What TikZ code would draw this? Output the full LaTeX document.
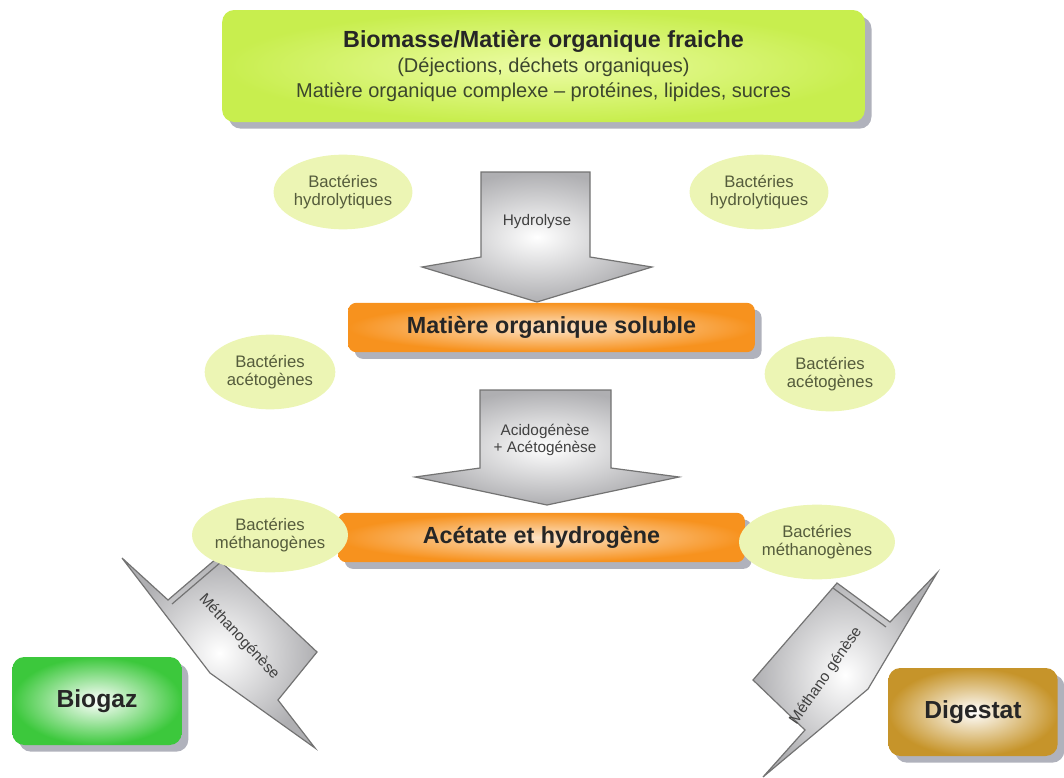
\documentclass[tikz,border=0pt]{standalone}
\usepackage{fontspec}
\setmainfont{Liberation Sans}
\usetikzlibrary{shapes.geometric,shadows}
\definecolor{limebox}{RGB}{200,238,78}
\definecolor{limeglow}{RGB}{236,252,165}
\definecolor{srctext}{RGB}{60,70,45}
\definecolor{orangebox}{RGB}{247,146,30}
\definecolor{orangeglow}{RGB}{253,228,200}
\definecolor{bacfill}{RGB}{236,245,180}
\definecolor{bactext}{RGB}{85,92,60}
\definecolor{biogreen}{RGB}{60,200,60}
\definecolor{digbrown}{RGB}{198,148,42}
\definecolor{arrowline}{RGB}{115,115,115}
\definecolor{arrowgray}{RGB}{175,175,178}
\definecolor{shadowgray}{RGB}{150,152,165}

\begin{document}
\begin{tikzpicture}[x=0.75pt,y=-0.75pt,
 boxshadow/.style={drop shadow={shadow xshift=5pt,shadow yshift=-5pt,fill=shadowgray,opacity=.75}},
 source/.style={boxshadow,rounded corners=9pt,inner color=limeglow,outer color=limebox,minimum width=482pt,minimum height=84pt,align=center,text=srctext,font=\fontsize{15}{18.5}\selectfont},
 stage/.style={boxshadow,rounded corners=6pt,inner color=orangeglow,outer color=orangebox,minimum width=305pt,minimum height=37pt,text=black!85,font=\fontsize{17.5}{20}\selectfont\bfseries},
 product/.style={boxshadow,rounded corners=9pt,inner color=white,minimum width=127pt,minimum height=66pt,text=black!85,font=\fontsize{18.5}{20}\selectfont\bfseries},
 bact/.style={ellipse,fill=bacfill,minimum width=98pt,minimum height=56pt,inner sep=0pt,align=center,text=bactext,font=\fontsize{12.5}{14}\selectfont},
 flow/.style={draw=arrowline,line width=0.9pt,inner color=white,outer color=arrowgray,line join=miter},
 flowlbl/.style={align=center,text=black!75,font=\fontsize{11.5}{12.5}\selectfont}]
\useasboundingbox (0,0) rectangle (1064,778);

\draw[flow] (481,172)--(590,172)--(590,257)--(652,267)--(537,302)--(422,267)--(481,257)--cycle;
\draw[flow] (480,390)--(611,390)--(611,468)--(679,477)--(547,505)--(415,477)--(480,468)--cycle;
\draw[flow] (122,558)--(168,600)--(217,558)--(317,652)--(278,700)--(315,748)--(210,673)--cycle;
\draw[arrowline,line width=0.9pt] (172,604)--(221,562);
\draw[flow] (937,573)--(890,622)--(837,583)--(753,680)--(805,730)--(763,777)--(868,689)--cycle;
\draw[arrowline,line width=0.9pt] (833,588)--(886,627);

\node[flowlbl] (hyd) at (537,222) {Hydrolyse};
\node[flowlbl] (acid) at (545,440) {Acidogénèse\\+ Acétogénèse};
\node[flowlbl,rotate=-47] (meth1) at (239,637) {Méthanogénèse};
\node[flowlbl,rotate=55] (meth2) at (826,676) {Méthano génèse};

\node[source] (src) at (543.5,66) {{\fontsize{17.5}{18.5}\selectfont\bfseries\color{black!85}Biomasse/Matière organique fraiche}\\(Déjections, déchets organiques)\\Matière organique complexe – protéines, lipides, sucres};
\node[stage] (sol) at (551.5,327.5) {Matière organique soluble};
\node[stage] (ace) at (541.5,537.5) {Acétate et hydrogène};
\node[product,outer color=biogreen] (gaz) at (97,701) {Biogaz};
\node[product,outer color=digbrown] (dig) at (973,712) {Digestat};

\node[bact] (hyl) at (343,192) {Bactéries\\hydrolytiques};
\node[bact] (hyr) at (759,192) {Bactéries\\hydrolytiques};
\node[bact] (acl) at (270,372) {Bactéries\\acétogènes};
\node[bact] (acr) at (830,374) {Bactéries\\acétogènes};
\node[bact] (mel) at (270,535) {Bactéries\\méthanogènes};
\node[bact] (mer) at (817,542) {Bactéries\\méthanogènes};
\end{tikzpicture}
\end{document}
